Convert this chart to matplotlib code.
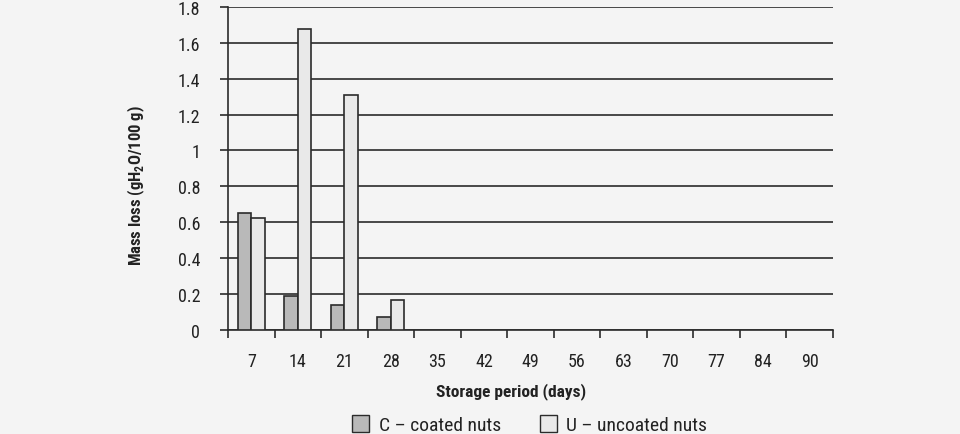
import numpy as np
import matplotlib.pyplot as plt
from matplotlib import font_manager
from matplotlib.patches import Patch

# pick a condensed face if there is one
names = {f.name for f in font_manager.fontManager.ttflist}
narrow = [n for n in ["Liberation Sans Narrow", "Roboto Condensed", "Arial Narrow"] if n in names]
if narrow:
    plt.rcParams['font.family'] = [narrow[0], 'DejaVu Sans']
else:
    plt.rcParams['font.family'] = ['DejaVu Sans']
    plt.rcParams['font.stretch'] = "condensed"

# Storage period categories (days)
days = ["7", "14", "21", "28", "35", "42", "49", "56", "63", "70", "77", "84", "90"]
# Mass loss values, only the first four periods have bars
coated = [0.65, 0.19, 0.14, 0.075]
uncoated = [0.625, 1.675, 1.31, 0.165]
y_ticks = [0, 0.2, 0.4, 0.6, 0.8, 1, 1.2, 1.4, 1.6, 1.8]
y_tick_labels = ["0", "0.2", "0.4", "0.6", "0.8", "1", "1.2", "1.4", "1.6", "1.8"]

c_color = "#b9b9b9"
u_color = "#e9e9e9"
edge = "#2b2b2b"
text_color = "#222222"

fig = plt.figure(figsize=(9.6, 4.35), dpi=100)
fig.patch.set_facecolor("#f4f4f4")
ax = fig.add_axes([0.2375, 0.239, 0.630, 0.743])
ax.set_facecolor("#f4f4f4")

x = np.arange(len(days))
width = 0.29
xc = np.arange(len(coated))
ax.bar(xc - width / 2, coated, width, color=c_color, edgecolor=edge, linewidth=1.2, zorder=3)
ax.bar(xc + width / 2, uncoated, width, color=u_color, edgecolor=edge, linewidth=1.2, zorder=3)

ax.set_xlim(-0.5, len(days) - 0.5)
ax.set_ylim(0, 1.8)

ax.set_yticks(y_ticks)
ax.set_yticklabels(y_tick_labels, fontsize=13, color=text_color)
ax.yaxis.grid(True, color=edge, linewidth=1.2, zorder=0)
ax.tick_params(axis="y", length=6, width=1.2, color=edge, pad=14)

ax.set_xticks(x)
ax.set_xticklabels(days, fontsize=13, color=text_color)
ax.set_xticks(np.arange(-0.5, len(days), 1), minor=True)
ax.tick_params(axis="x", which="major", length=0, pad=16)
ax.tick_params(axis="x", which="minor", length=6, width=1.2, color=edge)

for side in ["top", "right"]:
    ax.spines[side].set_visible(False)
for side in ["left", "bottom"]:
    ax.spines[side].set_color(edge)
    ax.spines[side].set_linewidth(1.2)

ax.set_xlabel("Storage period (days)", fontsize=12.5, fontweight="bold", color=text_color)
ax.xaxis.set_label_coords(0.468, -0.162)
ax.set_ylabel("Mass loss (gH$_\\mathregular{2}$O/100 g)", fontsize=12, fontweight="bold",
              color=text_color)
ax.yaxis.set_label_coords(-0.134, 0.45)

handles = [
    Patch(facecolor=c_color, edgecolor=edge, label="C \u2013 coated nuts"),
    Patch(facecolor=u_color, edgecolor=edge, label="U \u2013 uncoated nuts"),
]
leg = fig.legend(handles=handles, loc="center", bbox_to_anchor=(0.5517, 0.021), ncol=2,
                 frameon=False, fontsize=14, handlelength=0.9, handleheight=0.9,
                 columnspacing=2.0, handletextpad=0.47)
for t in leg.get_texts():
    t.set_color(text_color)

fig.savefig("out.png", dpi=100, facecolor=fig.get_facecolor())
